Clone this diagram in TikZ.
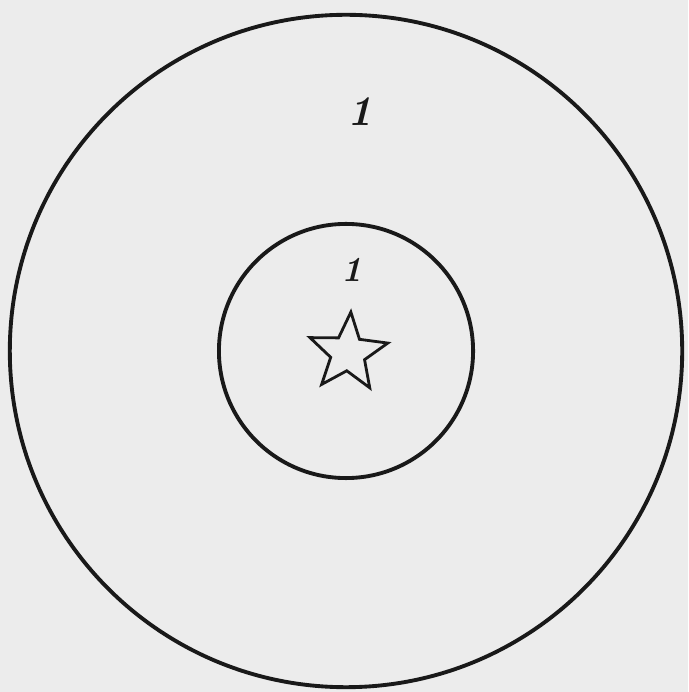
\documentclass[tikz,border=0pt]{standalone}
\usepackage{xcolor}
\definecolor{paper}{RGB}{236,236,236}
\definecolor{ink}{RGB}{25,25,25}
\usepackage{tikz}
\usetikzlibrary{
    shapes.geometric,
    positioning
}

\begin{document}
\begin{tikzpicture}[
        x=0.01cm, y=-0.01cm,
        ring/.style={circle, draw=ink, line width=1.1pt, inner sep=0pt, minimum size=#1},
        mark star/.style={star, star points=5, star point ratio=2.3, draw=ink, line width=0.8pt, inner sep=0pt, minimum size=0.82cm, rotate=-4},
        num/.style={text=ink, font=\bfseries\itshape, inner sep=0pt}
    ]
        \fill[paper] (0,0) rectangle (688,692);
        \useasboundingbox (0,0) rectangle (688,692);

        \node[ring=6.72cm] (outer) at (346,351) {};
        \node[ring=2.54cm] (inner) at (346,351) {};

        \node[mark star] (centre) at (348,353) {};

        \node[num, font=\large\bfseries\itshape] (outerlabel) at (360,112) {1};
        \node[num] (innerlabel) at (352,270) {1};
    \end{tikzpicture}
\end{document}
